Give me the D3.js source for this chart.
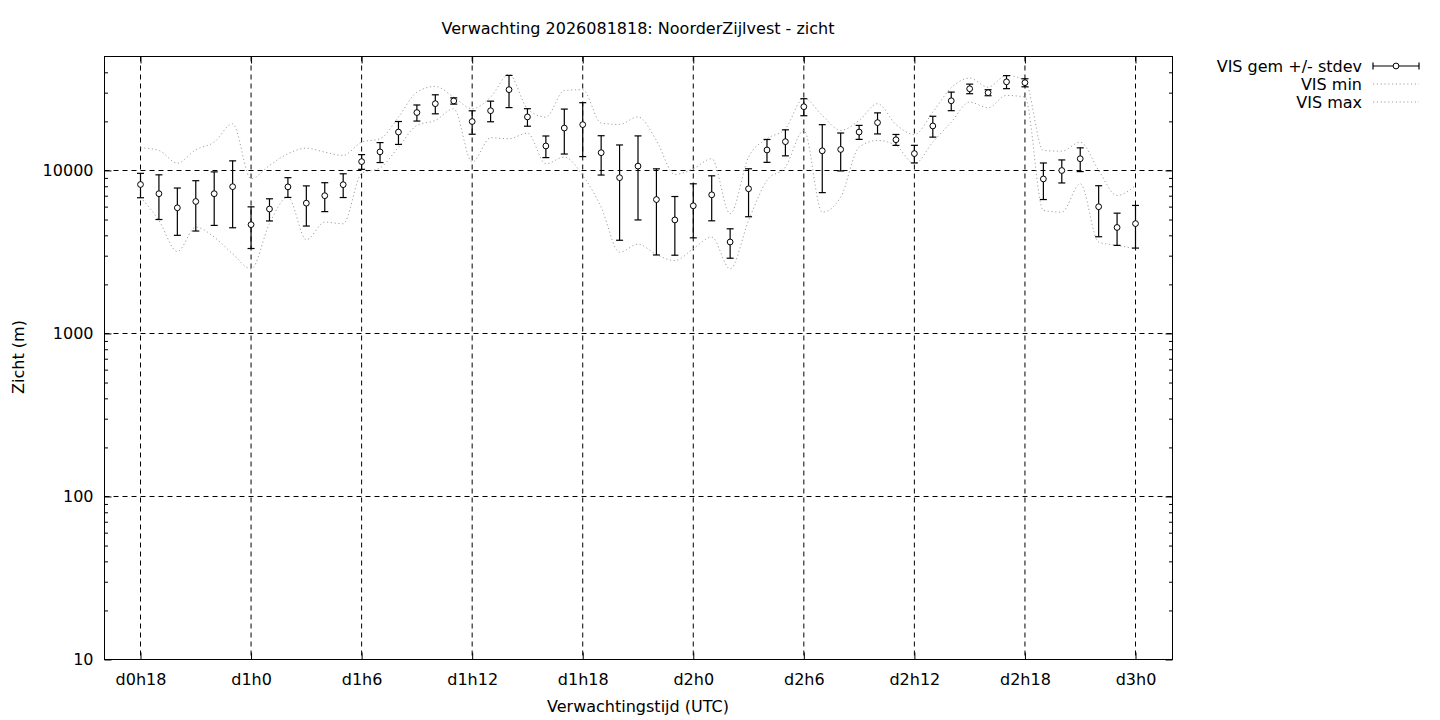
<!DOCTYPE html>
<html>
<head>
<meta charset="utf-8">
<script src="https://cdn.jsdelivr.net/npm/d3@7"></script>
<style>
  body { margin: 0; background: #fff; }
  svg { display: block; font-family: "DejaVu Sans", sans-serif; }
</style>
</head>
<body>
<svg id="visChart" width="1440" height="720"></svg>
<script>
// forecast hours (hour 0 = d0h0)
const hours = [18, 19, 20, 21, 22, 23, 24, 25, 26, 27, 28, 29, 30, 31, 32, 33, 34, 35, 36, 37,
  38, 39, 40, 41, 42, 43, 44, 45, 46, 47, 48, 49, 50, 51, 52, 53, 54, 55, 56, 57,
  58, 59, 60, 61, 62, 63, 64, 65, 66, 67, 68, 69, 70, 71, 72];

// visibility (m): ensemble mean, stdev, min, max
const visMean = [8200, 7200, 5900, 6450, 7200, 7950, 4650, 5800, 7930, 6300, 7000, 8180, 11330, 13000, 17200, 22650, 25680, 26700, 19950, 23250,
  31300, 21300, 14130, 18200, 19100, 12850, 9030, 10630, 6630, 4970, 6070, 7090, 3640, 7720, 13350, 15020, 24600, 13200, 13450, 17200,
  19650, 15430, 12690, 18750, 26750, 31700, 30000, 34950, 34550, 8870, 9990, 11800, 5990, 4470, 4720];
const visStdev = [1400, 2200, 1900, 2200, 2600, 3500, 1330, 900, 1100, 1740, 1410, 1360, 1170, 1820, 2760, 2560, 3430, 1180, 3270, 3360,
  7000, 2620, 2140, 5590, 6940, 3480, 5300, 5660, 3600, 1950, 2210, 2180, 745, 2520, 2140, 2730, 2940, 5890, 3520, 1690,
  2900, 1190, 1570, 2740, 3490, 2140, 1270, 3200, 1960, 2240, 1610, 1960, 2070, 1000, 1380];
const visMin = [6860, 4930, 3180, 4490, 3900, 3080, 2490, 4710, 6860, 3760, 4820, 4710, 9590, 10360, 13900, 18880, 20270, 23900, 11240, 15870,
  15650, 16940, 10990, 12070, 9320, 5950, 3150, 3530, 3050, 2800, 3310, 3900, 2490, 4930, 8690, 10480, 17600, 5550, 6860, 13900,
  15280, 14240, 10990, 14910, 19790, 26240, 24250, 28850, 28170, 5680, 5550, 8290, 3630, 3470, 3310];
const visMax = [13780, 13260, 11090, 13400, 14910, 19340, 8890, 10730, 12660, 13700, 12950, 12360, 14910, 15650, 21230, 30230, 32760, 28170, 23900, 28170,
  38820, 23900, 21230, 30960, 31270, 19510, 19150, 21300, 15280, 9450, 10240, 11800, 5430, 12070, 15650, 18030, 27770, 21750, 17600, 20270,
  25660, 19150, 16630, 22780, 32170, 36840, 32440, 38270, 35650, 13260, 13130, 14910, 10000, 7020, 8090];

const xTickHours = [18, 24, 30, 36, 42, 48, 54, 60, 66, 72];
const xTickLabels = ["d0h18", "d1h0", "d1h6", "d1h12", "d1h18", "d2h0", "d2h6", "d2h12", "d2h18", "d3h0"];
const yTickValues = [10, 100, 1000, 10000];
const yMinorValues = [20, 30, 40, 50, 60, 70, 80, 90, 200, 300, 400, 500, 600, 700, 800, 900,
  2000, 3000, 4000, 5000, 6000, 7000, 8000, 9000, 20000, 30000, 40000];

(function () {
  const svg = d3.select("#visChart");
  const left = 104.5, right = 1172.5, top = 56.5, bottom = 659.5;
  const fontSize = "16px";

  // hour axis: d0h18 at x=140.5, d3h0 at x=1135.5, frame a bit wider
  const x = d3.scaleLinear().domain([18, 72]).range([140.5, 1135.5]);
  const y = d3.scaleLog().domain([10, 50000]).range([bottom, top]);

  const rows = hours.map((h, i) => ({
    h,
    mean: visMean[i],
    sd: visStdev[i],
    min: visMin[i],
    max: visMax[i]
  }));

  // grid
  const grid = svg.append("g")
    .attr("stroke", "#000")
    .attr("stroke-width", 1)
    .attr("stroke-dasharray", "5,4");
  grid.selectAll("line.gx")
    .data(xTickHours)
    .join("line")
    .attr("class", "gx")
    .attr("x1", d => x(d))
    .attr("x2", d => x(d))
    .attr("y1", top)
    .attr("y2", bottom);
  grid.selectAll("line.gy")
    .data(yTickValues.slice(1))
    .join("line")
    .attr("class", "gy")
    .attr("x1", left)
    .attr("x2", right)
    .attr("y1", d => Math.round(y(d)) + 0.5)
    .attr("y2", d => Math.round(y(d)) + 0.5);

  // axes
  const tickText = g => g.selectAll("text")
    .attr("font-family", "DejaVu Sans, sans-serif")
    .attr("font-size", fontSize)
    .attr("fill", "#000");

  svg.append("g")
    .attr("transform", `translate(${left},0)`)
    .call(d3.axisLeft(y).tickValues(yTickValues).tickFormat(d3.format("d")).tickSize(-7).tickPadding(11))
    .call(g => g.select(".domain").remove())
    .call(tickText);
  svg.append("g")
    .attr("transform", `translate(${left},0)`)
    .call(d3.axisLeft(y).tickValues(yMinorValues).tickFormat("").tickSize(-3.5))
    .call(g => g.select(".domain").remove());
  svg.append("g")
    .attr("transform", `translate(${right},0)`)
    .call(d3.axisRight(y).tickValues(yTickValues).tickFormat("").tickSize(-7))
    .call(g => g.select(".domain").remove());
  svg.append("g")
    .attr("transform", `translate(${right},0)`)
    .call(d3.axisRight(y).tickValues(yMinorValues).tickFormat("").tickSize(-3.5))
    .call(g => g.select(".domain").remove());

  svg.append("g")
    .attr("transform", `translate(0,${bottom})`)
    .call(d3.axisBottom(x).tickValues(xTickHours).tickFormat((d, i) => xTickLabels[i]).tickSize(-7).tickPadding(14))
    .call(g => g.select(".domain").remove())
    .call(tickText);
  svg.append("g")
    .attr("transform", `translate(0,${top})`)
    .call(d3.axisTop(x).tickValues(xTickHours).tickFormat("").tickSize(-7))
    .call(g => g.select(".domain").remove());

  svg.selectAll(".tick line").attr("stroke", "#000");

  // min / max lines
  const lineOf = key => d3.line()
    .x(d => x(d.h))
    .y(d => y(d[key]))
    .curve(d3.curveMonotoneX);

  ["min", "max"].forEach(key => {
    svg.append("path")
      .datum(rows)
      .attr("fill", "none")
      .attr("stroke", "#a0a0a0")
      .attr("stroke-width", 1)
      .attr("stroke-dasharray", "1.2,2.6")
      .attr("d", lineOf(key));
  });

  // error bars
  const bars = svg.append("g")
    .attr("stroke", "#000")
    .attr("stroke-width", 1.2)
    .selectAll("g")
    .data(rows)
    .join("g");
  bars.append("line")
    .attr("x1", d => x(d.h))
    .attr("x2", d => x(d.h))
    .attr("y1", d => y(d.mean + d.sd))
    .attr("y2", d => y(d.mean - d.sd));
  bars.append("line")
    .attr("x1", d => x(d.h) - 3.5)
    .attr("x2", d => x(d.h) + 3.5)
    .attr("y1", d => y(d.mean + d.sd))
    .attr("y2", d => y(d.mean + d.sd));
  bars.append("line")
    .attr("x1", d => x(d.h) - 3.5)
    .attr("x2", d => x(d.h) + 3.5)
    .attr("y1", d => y(d.mean - d.sd))
    .attr("y2", d => y(d.mean - d.sd));
  bars.append("circle")
    .attr("cx", d => x(d.h))
    .attr("cy", d => y(d.mean))
    .attr("r", 2.9)
    .attr("fill", "#fff")
    .attr("stroke-width", 1);

  // frame
  svg.append("rect")
    .attr("x", left)
    .attr("y", top)
    .attr("width", right - left)
    .attr("height", bottom - top)
    .attr("fill", "none")
    .attr("stroke", "#000")
    .attr("stroke-width", 1);

  // titles
  const label = (tx, ty, text, anchor, rot) => svg.append("text")
    .attr("transform", `translate(${tx},${ty})` + (rot ? ` rotate(${rot})` : ""))
    .attr("text-anchor", anchor || "middle")
    .attr("font-size", fontSize)
    .attr("fill", "#000")
    .text(text);

  label(638, 34, "Verwachting 2026081818: NoorderZijlvest - zicht");
  label(638, 712, "Verwachtingstijd (UTC)");
  label(24, 357, "Zicht (m)", "middle", -90);

  // legend
  const legendItems = [
    { name: "VIS gem +/- stdev", type: "err" },
    { name: "VIS min", type: "line" },
    { name: "VIS max", type: "line" }
  ];
  const lg = svg.append("g");
  legendItems.forEach((d, i) => {
    const cy = 66 + i * 18;
    label(1362, cy + 5.5, d.name, "end");
    if (d.type === "err") {
      lg.append("line").attr("x1", 1373).attr("x2", 1419).attr("y1", cy).attr("y2", cy)
        .attr("stroke", "#000").attr("stroke-width", 1.2);
      lg.append("line").attr("x1", 1373).attr("x2", 1373).attr("y1", cy - 3.5).attr("y2", cy + 3.5)
        .attr("stroke", "#000").attr("stroke-width", 1.2);
      lg.append("line").attr("x1", 1419).attr("x2", 1419).attr("y1", cy - 3.5).attr("y2", cy + 3.5)
        .attr("stroke", "#000").attr("stroke-width", 1.2);
      lg.append("circle").attr("cx", 1396).attr("cy", cy).attr("r", 2.9)
        .attr("fill", "#fff").attr("stroke", "#000").attr("stroke-width", 1);
    } else {
      lg.append("line").attr("x1", 1373).attr("x2", 1419).attr("y1", cy).attr("y2", cy)
        .attr("stroke", "#a0a0a0").attr("stroke-width", 1).attr("stroke-dasharray", "1.2,2.6");
    }
  });
})();
</script>
</body>
</html>
